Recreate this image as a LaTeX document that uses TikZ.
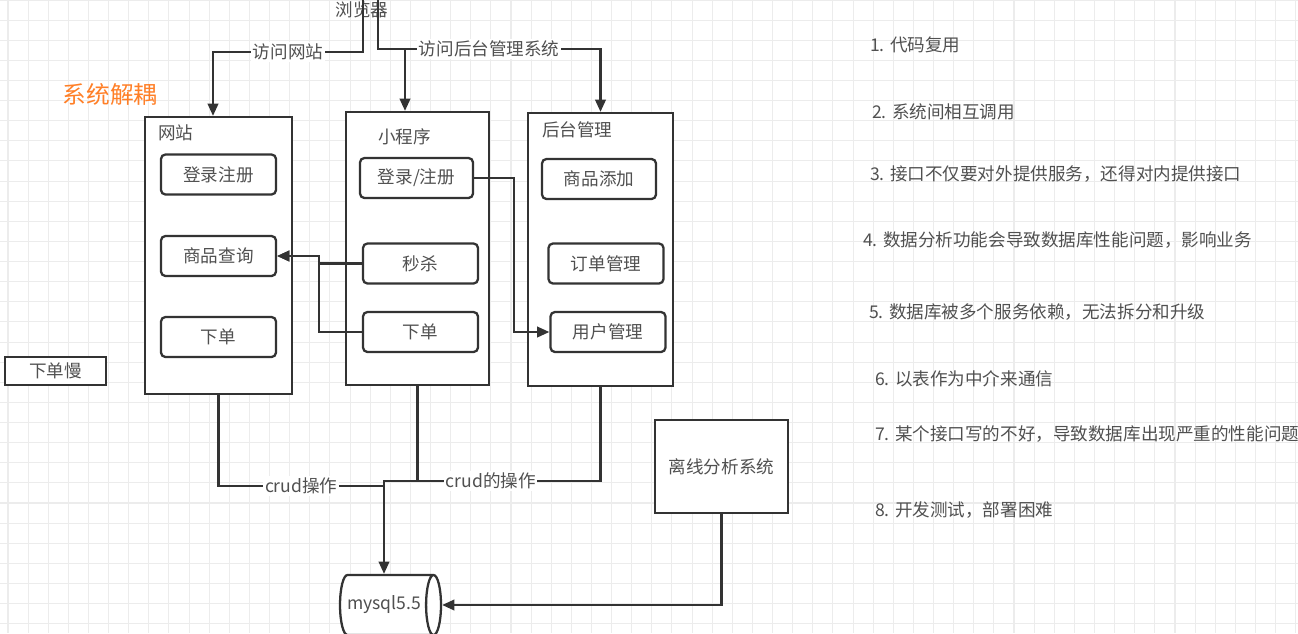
\documentclass[tikz,border=0pt]{standalone}
\usepackage{fontspec}
\setmainfont{Noto Sans CJK SC}
\usetikzlibrary{arrows.meta,positioning,shapes.geometric}
\definecolor{linegray}{HTML}{333333}
\definecolor{textgray}{HTML}{505050}
\definecolor{gridgray}{HTML}{ECECEC}
\definecolor{accent}{HTML}{FF7F27}

\begin{document}
\begin{tikzpicture}[
x=0.02cm, y=-0.02cm,
font=\fontsize{10}{12}\selectfont, text=textgray,
sys/.style={draw=linegray, fill=white, line width=1.3pt, minimum width=2.9cm, minimum height=5.46cm},
func/.style={draw=linegray, fill=white, line width=1.3pt, rounded corners=2.5pt, minimum width=2.3cm, minimum height=0.8cm},
plainbox/.style={draw=linegray, fill=white, line width=1.3pt},
title/.style={anchor=west},
item/.style={anchor=west},
arrow/.style={-{Triangle[length=7pt,width=6pt]}, draw=linegray, line width=1.3pt},
link/.style={draw=linegray, line width=1.3pt},
lbl/.style={fill=white, inner sep=1pt},
gridline/.style={draw=gridgray, line width=0.6pt}
]
\useasboundingbox (0,0) rectangle (1298,633);

% background grid
\foreach \i in {0,...,64} \draw[gridline] ({8+20.12*\i},0) -- ({8+20.12*\i},633);
\foreach \j in {0,...,31} \draw[gridline] (0,{20.12*\j}) -- (1298,{20.12*\j});

\node (browser) at (362,10) {浏览器};
\coordinate (b1) at (363,0);
\coordinate (b2) at (378,0);

\node[text=accent, font=\fontsize{13.5}{15}\selectfont] (decouple) at (110,94) {系统解耦};

% the three systems
\node[sys, minimum width=2.94cm, minimum height=5.54cm] (web) at (218.5,255.5) {};
\node[title] (webt) at (152,133) {网站};
\node[sys, minimum width=2.86cm] (mini) at (417.5,248.5) {};
\node[title] (minit) at (372,137) {小程序};
\node[sys] (admin) at (600.5,249.5) {};
\node[title] (admint) at (536,130) {后台管理};

\node[func] (wlogin) at (218.5,174.5) {登录注册};
\node[func] (wquery) at (218.5,256) {商品查询};
\node[func] (worder) at (218.5,337) {下单};
\node[func, minimum width=2.26cm] (mlogin) at (416.5,178) {登录/注册};
\node[func] (mkill) at (420.5,263.5) {秒杀};
\node[func] (morder) at (420.5,332) {下单};
\node[func, minimum width=2.28cm] (aadd) at (599,179) {商品添加};
\node[func] (aorder) at (606,263.5) {订单管理};
\node[func] (auser) at (608,332) {用户管理};

\node[plainbox, minimum width=2.02cm, minimum height=0.56cm, inner sep=1pt] (slow) at (55.5,371) {下单慢};
\node[plainbox, minimum width=2.66cm, minimum height=1.86cm] (offline) at (721.5,466.5) {离线分析系统};
\node[plainbox, cylinder, shape aspect=0.5, minimum width=1.2cm, minimum height=2.02cm, inner xsep=1pt] (db) at (384,605) {mysql5.5};

% notes
\node[item] (n1) at (864,45) {1. 代码复用};
\node[item] (n2) at (866,112) {2. 系统间相互调用};
\node[item] (n3) at (864,174) {3. 接口不仅要对外提供服务，还得对内提供接口};
\node[item] (n4) at (857,240) {4. 数据分析功能会导致数据库性能问题，影响业务};
\node[item] (n5) at (863,312) {5. 数据库被多个服务依赖，无法拆分和升级};
\node[item] (n6) at (869,379) {6. 以表作为中介来通信};
\node[item] (n7) at (869,434) {7. 某个接口写的不好，导致数据库出现严重的性能问题};
\node[item] (n8) at (869,510) {8. 开发测试，部署困难};

\draw[arrow] (b1) -- (363,52) -| node[pos=0.25, lbl] {访问网站} ([xshift=-0.11cm]web.north);
\draw[arrow] (b2) -- (378,49) -| ([xshift=-0.25cm]mini.north);
\draw[arrow] (b2) -- (378,49) -| node[pos=0.25, lbl] {访问后台管理系统} (admin.north);

\draw[arrow] (mlogin.east) -- ++(40,0) |- (auser.west);
\draw[arrow] (mkill.west) -- ++(-43,0) |- (wquery.east);
\draw[arrow] (morder.west) -- ++(-43,0) |- (wquery.east);

\draw[link] (web.south) |- node[pos=0.75, lbl] {crud操作} (db.north |- 0,486);
\draw[link] (admin.south) |- node[pos=0.8, lbl] {crud的操作} (mini.south |- 0,481);
\draw[arrow] (mini.south) |- (db.north |- 0,481) -- (db.north);
\draw[arrow] (offline.south) |- (db.east);
\end{tikzpicture}
\end{document}
